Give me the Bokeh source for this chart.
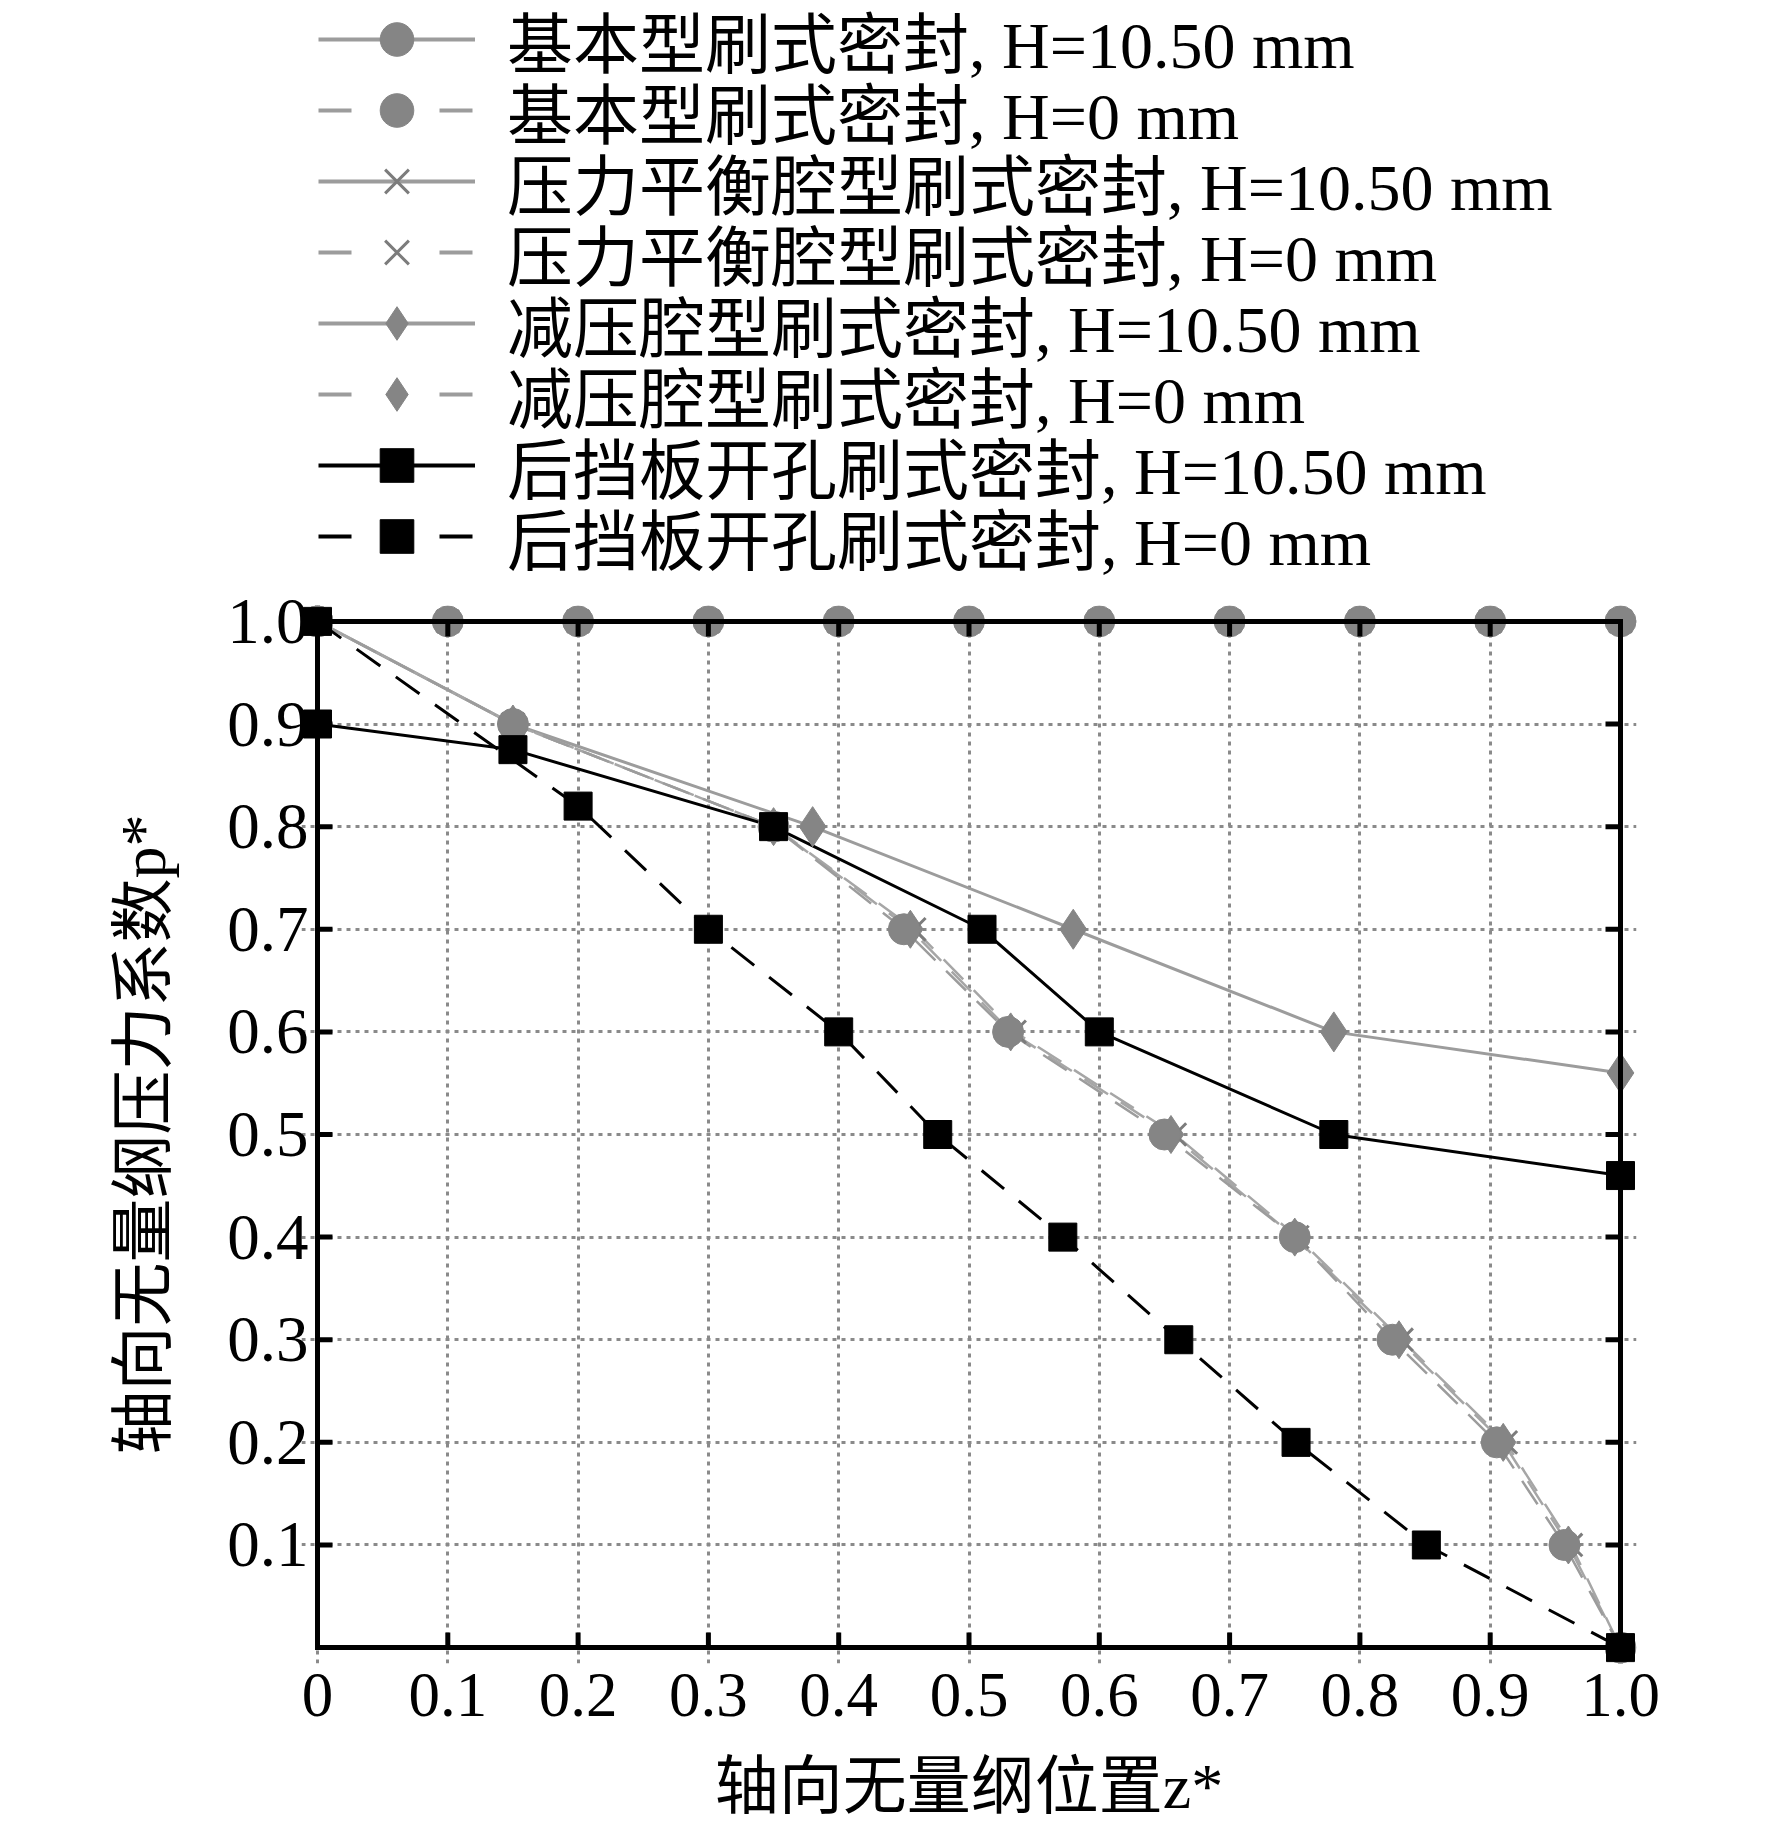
import math
from bokeh.plotting import figure
from bokeh.layouts import column
from bokeh.models import Range1d, FixedTicker, Legend, LegendItem, Grid
from bokeh.embed import file_html
from bokeh.resources import INLINE

# ---------------- data ----------------
x_ticks = [0.0, 0.1, 0.2, 0.3, 0.4, 0.5, 0.6, 0.7, 0.8, 0.9, 1.0]
x_tick_labels = ["0", "0.1", "0.2", "0.3", "0.4", "0.5", "0.6", "0.7", "0.8", "0.9", "1.0"]
y_ticks = [0.1, 0.2, 0.3, 0.4, 0.5, 0.6, 0.7, 0.8, 0.9, 1.0]
y_tick_labels = ["0.1", "0.2", "0.3", "0.4", "0.5", "0.6", "0.7", "0.8", "0.9", "1.0"]
z_min, z_max = 0.0, 1.0
p_min, p_max = 0.0, 1.0

labels = [
    "基本型刷式密封, H=10.50 mm",
    "基本型刷式密封, H=0 mm",
    "压力平衡腔型刷式密封, H=10.50 mm",
    "压力平衡腔型刷式密封, H=0 mm",
    "减压腔型刷式密封, H=10.50 mm",
    "减压腔型刷式密封, H=0 mm",
    "后挡板开孔刷式密封, H=10.50 mm",
    "后挡板开孔刷式密封, H=0 mm",
]

# basic type
basic_h105_z = [0.0, 0.1, 0.2, 0.3, 0.4, 0.5, 0.6, 0.7, 0.8, 0.9, 1.0]
basic_h105_p = [1.0, 1.0, 1.0, 1.0, 1.0, 1.0, 1.0, 1.0, 1.0, 1.0, 1.0]
basic_h0_z = [0.0, 0.15, 0.35, 0.45, 0.53, 0.65, 0.75, 0.825, 0.905, 0.957, 1.0]
basic_h0_p = [1.0, 0.9, 0.8, 0.7, 0.6, 0.5, 0.4, 0.3, 0.2, 0.1, 0.0]
# pressure balance cavity type
balance_h105_z = [0.0, 0.1, 0.2, 0.3, 0.4, 0.5, 0.6, 0.7, 0.8, 0.9, 1.0]
balance_h105_p = [1.0, 1.0, 1.0, 1.0, 1.0, 1.0, 1.0, 1.0, 1.0, 1.0, 1.0]
balance_h0_z = [0.0, 0.15, 0.35, 0.458, 0.535, 0.658, 0.752, 0.832, 0.912, 0.962, 1.0]
balance_h0_p = [1.0, 0.9, 0.8, 0.7, 0.6, 0.5, 0.4, 0.3, 0.2, 0.1, 0.0]
# pressure relief cavity type
relief_h105_z = [0.0, 0.15, 0.38, 0.58, 0.78, 1.0]
relief_h105_p = [1.0, 0.9, 0.8, 0.7, 0.6, 0.56]
relief_h105_first_marker = 2
relief_h0_z = [0.0, 0.15, 0.35, 0.455, 0.532, 0.655, 0.75, 0.83, 0.91, 0.96, 1.0]
relief_h0_p = [1.0, 0.9, 0.8, 0.7, 0.6, 0.5, 0.4, 0.3, 0.2, 0.1, 0.0]
# back plate hole type
hole_h105_z = [0.0, 0.15, 0.35, 0.51, 0.6, 0.78, 1.0]
hole_h105_p = [0.9, 0.875, 0.8, 0.7, 0.6, 0.5, 0.46]
hole_h0_z = [0.0, 0.2, 0.3, 0.4, 0.476, 0.572, 0.661, 0.751, 0.851, 1.0]
hole_h0_p = [1.0, 0.82, 0.7, 0.6, 0.5, 0.4, 0.3, 0.2, 0.1, 0.0]

series = [
    (basic_h105_z, basic_h105_p, basic_h105_z, basic_h105_p),
    (basic_h0_z, basic_h0_p, basic_h0_z, basic_h0_p),
    (balance_h105_z, balance_h105_p, balance_h105_z, balance_h105_p),
    (balance_h0_z, balance_h0_p, balance_h0_z, balance_h0_p),
    (relief_h105_z, relief_h105_p,
     relief_h105_z[relief_h105_first_marker:], relief_h105_p[relief_h105_first_marker:]),
    (relief_h0_z, relief_h0_p, relief_h0_z, relief_h0_p),
    (hole_h105_z, hole_h105_p, hole_h105_z, hole_h105_p),
    (hole_h0_z, hole_h0_p, hole_h0_z, hole_h0_p),
]

# ---------------- styles ----------------
GRAY_LINE = "#9c9c9c"
GRAY_DASH = "#a6a6a6"
GRAY_MARK = "#858585"
X_COLOR = "#7c7c7c"
BLACK = "#000000"
SERIF = "Liberation Serif, Noto Sans CJK SC"
GDASH = "28 15"
BDASH = "29 19"
LEG_DASH = "33 88"

line_styles = [
    dict(line_color=GRAY_LINE, line_width=3),
    dict(line_color=GRAY_LINE, line_width=2.5, line_dash=GDASH, line_dash_offset=5),
    dict(line_color=GRAY_LINE, line_width=3),
    dict(line_color=GRAY_DASH, line_width=2.5, line_dash=GDASH, line_dash_offset=14),
    dict(line_color=GRAY_LINE, line_width=3),
    dict(line_color=GRAY_DASH, line_width=2.5, line_dash=GDASH, line_dash_offset=0),
    dict(line_color=BLACK, line_width=3),
    dict(line_color=BLACK, line_width=3, line_dash=BDASH),
]
# the legend shows thicker strokes and one dash on each side of the marker
legend_line_styles = [
    dict(line_color=GRAY_LINE, line_width=4),
    dict(line_color=GRAY_LINE, line_width=4, line_dash=LEG_DASH),
    dict(line_color=GRAY_LINE, line_width=4),
    dict(line_color=GRAY_LINE, line_width=4, line_dash=LEG_DASH),
    dict(line_color=GRAY_LINE, line_width=4),
    dict(line_color=GRAY_LINE, line_width=4, line_dash=LEG_DASH),
    dict(line_color=BLACK, line_width=4),
    dict(line_color=BLACK, line_width=4, line_dash=LEG_DASH),
]
marker_styles = [
    dict(marker="circle", size=31, fill_color=GRAY_MARK, line_color=GRAY_MARK, line_width=1),
    dict(marker="circle", size=31, fill_color=GRAY_MARK, line_color=GRAY_MARK, line_width=1),
    dict(marker="x", size=32, line_color=X_COLOR, line_width=3),
    dict(marker="x", size=32, line_color=X_COLOR, line_width=3),
    dict(marker="diamond", size=40, fill_color=GRAY_MARK, line_color=GRAY_MARK, line_width=1),
    dict(marker="diamond", size=38, fill_color=GRAY_MARK, line_color=GRAY_MARK, line_width=1),
    dict(marker="square", size=28, fill_color=BLACK, line_color=BLACK),
    dict(marker="square", size=28, fill_color=BLACK, line_color=BLACK),
]

# ---------------- layout constants (pixels) ----------------
FIG_W = 1756
BORDER_L, BORDER_R = 301, 120
LEG_H = 592               # height of the legend strip above the chart
CHART_H = 1824 - LEG_H
BORDER_T, BORDER_B = 13, 153
BOX_W, BOX_H, PAD = 1303, 1034, 16
PAD_X = PAD / BOX_W
PAD_Y = PAD / BOX_H
LEG_X = 17
ROW0, ROW_STEP, ITEM_H, GLYPH_H = 39, 71, 100, 84   # legend rows, from the top of the strip

# ---------------- legend strip (its own figure above the chart) ----------------
leg_fig = figure(
    width=FIG_W, height=LEG_H, x_range=Range1d(10, 11), y_range=Range1d(10, 11),
    output_backend="svg", toolbar_location=None, tools="",
    x_axis_location=None, y_axis_location=None,
    min_border_left=BORDER_L, min_border_right=BORDER_R, min_border_top=0, min_border_bottom=0,
)
leg_fig.center = [obj for obj in leg_fig.center if not isinstance(obj, Grid)]
leg_fig.outline_line_color = None
leg_fig.background_fill_color = "white"
leg_fig.border_fill_color = "white"
for i, (lab, ls, ms) in enumerate(zip(labels, legend_line_styles, marker_styles)):
    z, pz, mz, mp = series[i]
    # proxies for the legend glyphs; their data lies outside this strip's ranges
    ln = leg_fig.line(z, pz, **ls)
    mk = leg_fig.scatter(mz, mp, **ms)
    centre = ROW0 + ROW_STEP * i
    leg = Legend(
        items=[LegendItem(label=lab, renderers=[ln, mk])],
        location=(LEG_X, LEG_H - centre - ITEM_H // 2), orientation="vertical",
        label_text_font=SERIF, label_text_font_size="66px", label_text_color=BLACK,
        glyph_width=157, glyph_height=GLYPH_H, label_height=ITEM_H, label_standoff=32,
        spacing=0, padding=0, margin=0, item_background_policy="none",
        border_line_color=None, background_fill_alpha=0,
    )
    leg_fig.add_layout(leg)

# ---------------- chart ----------------
p = figure(
    width=FIG_W, height=CHART_H,
    x_range=Range1d(z_min - PAD_X, z_max + PAD_X), y_range=Range1d(p_min - PAD_Y, p_max + PAD_Y),
    output_backend="svg", toolbar_location=None, tools="",
    min_border_left=BORDER_L, min_border_right=BORDER_R,
    min_border_top=BORDER_T, min_border_bottom=BORDER_B,
    x_axis_label="轴向无量纲位置z*", y_axis_label="轴向无量纲压力系数p*",
)
p.background_fill_color = "white"
p.border_fill_color = "white"
p.outline_line_color = None

xt = FixedTicker(ticks=x_ticks)
yt = FixedTicker(ticks=y_ticks)

for ax, t, labs in ((p.xaxis[0], xt, x_tick_labels), (p.yaxis[0], yt, y_tick_labels)):
    ax.ticker = t
    ax.axis_line_color = None
    ax.major_tick_line_color = None
    ax.minor_tick_line_color = None
    ax.major_tick_in = 0
    ax.major_tick_out = 0
    ax.major_label_overrides = dict(zip(t.ticks, labs))
    ax.major_label_text_font = "Liberation Serif"
    ax.major_label_text_color = BLACK
    ax.axis_label_text_font = SERIF
    ax.axis_label_text_font_size = "64px"
    ax.axis_label_text_font_style = "normal"
    ax.axis_label_text_color = BLACK
p.xaxis[0].major_label_text_font_size = "63px"
p.yaxis[0].major_label_text_font_size = "65px"
p.xaxis[0].major_label_standoff = 10
p.xaxis[0].axis_label_standoff = 32
p.yaxis[0].major_label_standoff = -7
p.yaxis[0].axis_label_standoff = 45

for g, t in ((p.xgrid[0], xt), (p.ygrid[0], yt)):
    g.ticker = t
    g.bounds = (0, 1)
    g.grid_line_color = "#8a8a8a"
    g.grid_line_width = 3
    g.grid_line_dash = "4 5"

# lines: gray ones first, black ones over them
for i in (0, 2, 4, 5, 3, 1, 6, 7):
    z, pz, _, _ = series[i]
    p.line(z, pz, **line_styles[i])

# gray markers (diamonds and crosses under the circles)
for i in (5, 4, 2, 3, 0, 1):
    _, _, mz, mp = series[i]
    p.scatter(mz, mp, **marker_styles[i])

# plot box and inward ticks
p.quad(left=[z_min], right=[z_max], bottom=[p_min], top=[p_max],
       fill_color=None, line_color=BLACK, line_width=5, line_join="miter")
TICK = 15
p.ray(x=[z_min] * len(y_ticks), y=y_ticks, length=TICK, length_units="screen", angle=0,
      line_color=BLACK, line_width=5)
p.ray(x=[z_max] * len(y_ticks), y=y_ticks, length=TICK, length_units="screen", angle=math.pi,
      line_color=BLACK, line_width=5)
p.ray(x=x_ticks, y=[p_min] * len(x_ticks), length=TICK, length_units="screen", angle=math.pi / 2,
      line_color=BLACK, line_width=5)
p.ray(x=x_ticks, y=[p_max] * len(x_ticks), length=TICK, length_units="screen", angle=-math.pi / 2,
      line_color=BLACK, line_width=5)

# black squares on top
for i in (6, 7):
    _, _, mz, mp = series[i]
    p.scatter(mz, mp, **marker_styles[i])

layout = column(leg_fig, p, spacing=0)
open("out.html", "w").write(file_html(layout, INLINE))
